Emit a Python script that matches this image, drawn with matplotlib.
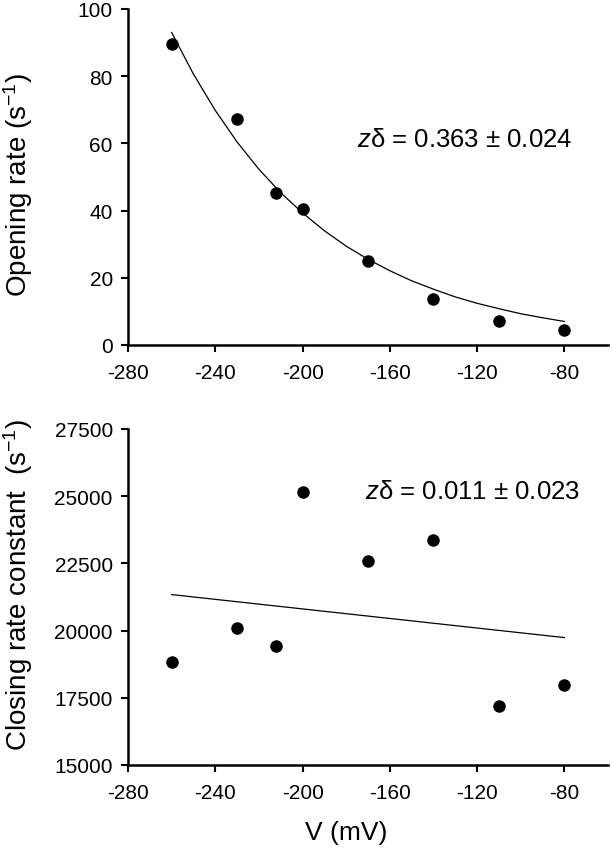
import matplotlib
matplotlib.use('Agg')
import matplotlib.pyplot as plt

plt.rcParams['font.family'] = ['Liberation Sans', 'DejaVu Sans']
plt.rcParams['mathtext.fontset'] = 'custom'
plt.rcParams['mathtext.rm'] = 'Liberation Sans'
plt.rcParams['mathtext.it'] = 'Liberation Sans:italic'
plt.rcParams['axes.unicode_minus'] = False

# voltages (mV)
volt = [-260, -230, -212, -200, -170, -140, -110, -80]
# opening rate (s-1)
opening = [89.6, 67.2, 45.1, 40.5, 24.9, 13.6, 7.1, 4.5]
# closing rate constant (s-1)
closing = [18850, 20080, 19420, 25170, 22580, 23360, 17200, 17960]

# fitted curves
fit_v = [-260, -250, -240, -230, -220, -210, -200, -190, -180, -170,
         -160, -150, -140, -130, -120, -110, -100, -90, -80]
fit_open = [93.0, 80.6, 69.8, 60.4, 52.3, 45.3, 39.3, 34.0, 29.4, 25.5,
            22.1, 19.1, 16.6, 14.3, 12.4, 10.8, 9.3, 8.1, 7.0]
fit_close_v = [-260, -80]
fit_close = [21340, 19740]

xticks = [-280, -240, -200, -160, -120, -80]

fig = plt.figure(figsize=(6.12, 8.53), dpi=100)
ax1 = fig.add_axes([0.2092, 0.5944, 0.7843, 0.3939])
ax2 = fig.add_axes([0.2092, 0.1020, 0.7843, 0.3939])

ax1.plot(fit_v, fit_open, color='black', lw=0.9)
ax1.plot(volt, opening, 'o', color='black', ms=8)
ax1.set_ylim(0, 100)
ax1.set_yticks([0, 20, 40, 60, 80, 100])
ax1.set_ylabel('Opening rate (s$^{-1}$)', fontsize=20)
ax1.yaxis.set_label_coords(-0.194, 0.478)
ax1.text(0.477, 0.613, r'$z$δ = 0.363 ± 0.024', transform=ax1.transAxes,
         fontsize=18.5, ha='left', va='center')

ax2.plot(fit_close_v, fit_close, color='black', lw=0.9)
ax2.plot(volt, closing, 'o', color='black', ms=8)
ax2.set_ylim(15000, 27500)
ax2.set_yticks([15000, 17500, 20000, 22500, 25000, 27500])
ax2.set_ylabel('Closing rate constant  (s$^{-1}$)', fontsize=20)
ax2.yaxis.set_label_coords(-0.194, 0.539)
ax2.set_xlabel('V (mV)', fontsize=19)
ax2.xaxis.set_label_coords(0.454, -0.164)
ax2.text(0.494, 0.815, r'$z$δ = 0.011 ± 0.023', transform=ax2.transAxes,
         fontsize=18.5, ha='left', va='center')

for ax in (ax1, ax2):
    ax.set_xlim(-280, -60)
    ax.set_xticks(xticks)
    ax.spines['top'].set_visible(False)
    ax.spines['right'].set_visible(False)
    ax.spines['left'].set_linewidth(1.8)
    ax.spines['bottom'].set_linewidth(1.8)
    ax.tick_params(direction='out', length=5, width=1.5, labelsize=15)
    ax.tick_params(axis='x', pad=8)
    ax.tick_params(axis='y', pad=6)

fig.savefig('out.png', dpi=100)
